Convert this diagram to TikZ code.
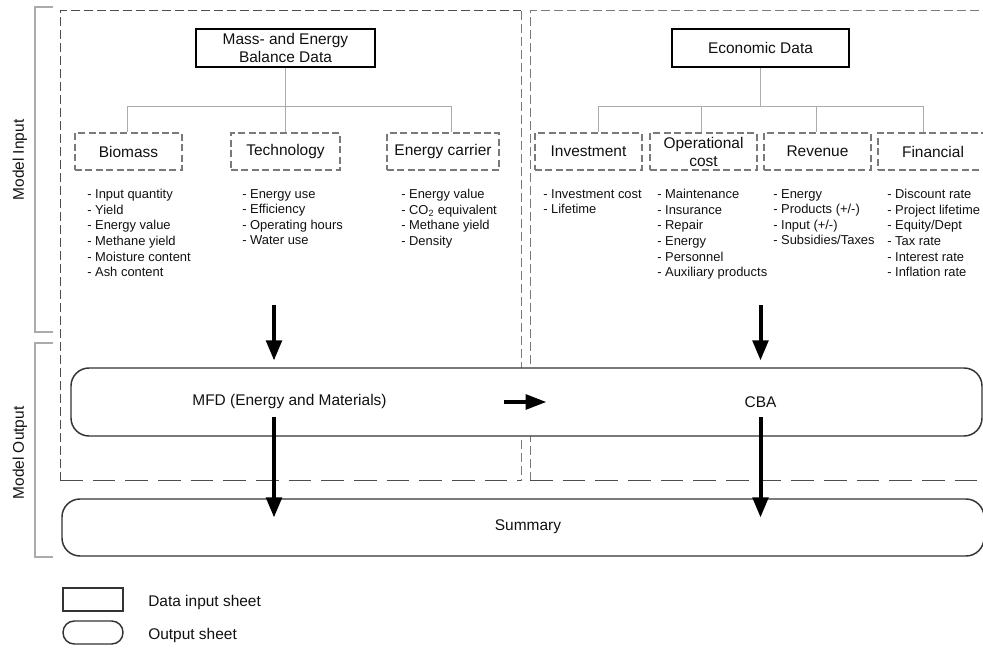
\documentclass[tikz,border=0pt]{standalone}
\usepackage{fontspec}
\setmainfont{Liberation Sans}
\usetikzlibrary{arrows.meta,calc}

% one drawing unit = one pixel of the 983 x 648 layout
\newdimen\pxu \pxu=0.75pt

\definecolor{edgedark}{HTML}{333333}
\definecolor{dashdark}{HTML}{4D4D4D}
\definecolor{dashmid}{HTML}{7A7A7A}
\definecolor{treegray}{HTML}{ABABAB}
\definecolor{inkblack}{HTML}{111111}

\tikzset{
  lbl/.style={font=\fontsize{11.6pt}{13.5pt}\selectfont, text=inkblack, inner sep=0pt, align=center},
  listtext/.style={font=\fontsize{9.7pt}{11.7pt}\selectfont, text=inkblack, inner sep=0pt, align=left, anchor=north west},
  databox/.style={draw=black, line width=1.1pt, minimum width=#1, minimum height=38\pxu, lbl},
  catbox/.style={draw=dashmid, line width=0.85pt, dash pattern=on 5.25pt off 2.6pt, minimum width=#1, minimum height=37\pxu, lbl},
  sheet/.style={draw=edgedark, line width=1.1pt, fill=white, rounded corners=13.5pt, inner sep=0pt},
  legendsheet/.style={draw=edgedark, line width=1.1pt, inner sep=0pt, minimum width=60\pxu, minimum height=23\pxu},
  flow/.style={draw=black, line width=3pt, -{Triangle[length=15pt,width=11.5pt]}},
  sideflow/.style={draw=black, line width=3pt, -{Triangle[length=15.75pt,width=11pt]}},
  treeline/.style={draw=treegray, line width=0.75pt},
  bracket/.style={draw=treegray, line width=0.9pt},
  frameshort/.style={line width=0.75pt, dash pattern=on 6.75pt off 3pt},
  framelong/.style={line width=0.75pt, dash pattern=on 17pt off 7.5pt},
}

\begin{document}
\begin{tikzpicture}[x=0.75pt, y=-0.75pt]
\useasboundingbox (0,0) rectangle (983,648);
\clip (0,0) rectangle (983,648);

% ---- side brackets ----
\draw[bracket] (53,7) -- (35,7) -- (35,332) -- (53,332);
\draw[bracket] (53,343) -- (35,343) -- (35,557) -- (53,557);
\node[lbl, rotate=90] (minput) at (20,160) {Model Input};
\node[lbl, rotate=90] (moutput) at (20,453) {Model Output};

% ---- dashed frames of the two input sheets ----
\draw[frameshort, draw=dashdark] (60,481) -- (60,11) -- (521,11);
\draw[frameshort, draw=dashmid] (521,11) -- (521,481);
\draw[framelong, draw=dashdark] (60,481) -- (521,481);
\draw[frameshort, draw=dashmid] (530,481) -- (530,11) -- (995,11);
\draw[framelong, draw=dashdark] (530,481) -- (995,481);

% ---- mass and energy balance branch ----
\node[databox=179\pxu] (mass) at (285.5,48) {Mass- and Energy\\Balance Data};
\node[catbox=107\pxu] (bio) at (128.5,151.5) {Biomass};
\node[catbox=109\pxu] (tech) at (285.5,151.5) {Technology};
\node[catbox=112\pxu] (ec) at (443,151.5) {Energy carrier};
\coordinate (mj) at (285.5,107);
\draw[treeline] (mass.south) -- (tech.north);
\draw[treeline] (mj) -| ([xshift=-1.5\pxu]bio.north);
\draw[treeline] (mj) -| ([xshift=8\pxu]ec.north);

\node[listtext] (biolist) at (87,189) {- Input quantity\\- Yield\\- Energy value\\- Methane yield\\- Moisture content\\- Ash content};
\node[listtext] (techlist) at (242,189) {- Energy use\\- Efficiency\\- Operating hours\\- Water use};
\node[listtext] (eclist) at (401,189) {- Energy value\\- CO\textsubscript{2} equivalent\\- Methane yield\\- Density};

% ---- economic branch ----
\node[databox=177\pxu] (econ) at (760.5,48) {Economic Data};
\node[catbox=107\pxu] (inv) at (588.5,151.5) {Investment};
\node[catbox=107\pxu] (opc) at (703.5,151.5) {Operational\\cost};
\node[catbox=107\pxu] (rev) at (817.5,151.5) {Revenue};
\node[catbox=110\pxu] (fin) at (933,151.5) {Financial};
\coordinate (ej) at (760.5,107);
\draw[treeline] (econ.south) -- (ej);
\draw[treeline] (ej) -| ([xshift=9.5\pxu]inv.north);
\draw[treeline] (ej) -| ([xshift=-2.5\pxu]opc.north);
\draw[treeline] (ej) -| ([xshift=-1.5\pxu]rev.north);
\draw[treeline] (ej) -| ([xshift=-10\pxu]fin.north);

\node[listtext] (invlist) at (543,189) {- Investment cost\\- Lifetime};
\node[listtext] (opclist) at (657,189) {- Maintenance\\- Insurance\\- Repair\\- Energy\\- Personnel\\- Auxiliary products};
\node[listtext] (revlist) at (773,189) {- Energy\\- Products (+/-)\\- Input (+/-)\\- Subsidies/Taxes};
\node[listtext] (finlist) at (887,189) {- Discount rate\\- Project lifetime\\- Equity/Dept\\- Tax rate\\- Interest rate\\- Inflation rate};

% ---- output sheets ----
\node[sheet, minimum width=911\pxu, minimum height=68\pxu] (out) at (526.5,402) {};
\node[lbl] (mfd) at (289.5,402) {MFD (Energy and Materials)};
\node[lbl] (cba) at (760.5,402) {CBA};
\node[sheet, minimum width=922\pxu, minimum height=57\pxu] (summary) at (523,527.5) {};
\node[lbl] (sumtext) at (528,527) {Summary};

% ---- flow arrows ----
\coordinate (srcL) at (274,305);
\coordinate (inL) at (274,360.5);
\coordinate (srcR) at (760.5,305);
\coordinate (inR) at (760.5,360.5);
\coordinate (mfdR) at (504,402);
\coordinate (cbaL) at (546.5,402);
\coordinate (outL) at (274,417);
\coordinate (sumL) at (274,517.5);
\coordinate (outR) at (760.5,417);
\coordinate (sumR) at (760.5,517.5);
\draw[flow] (srcL) -- (inL);
\draw[flow] (srcR) -- (inR);
\draw[sideflow] (mfdR) -- (cbaL);
\draw[flow] (outL) -- (sumL);
\draw[flow] (outR) -- (sumR);

% ---- legend ----
\node[legendsheet] (legin) at (93,599.5) {};
\node[legendsheet, rounded corners=8.5pt] (legout) at (93,632.5) {};
\node[lbl, anchor=west] (legintext) at (148,603) {Data input sheet};
\node[lbl, anchor=west] (legouttext) at (148,636) {Output sheet};
\end{tikzpicture}
\end{document}
